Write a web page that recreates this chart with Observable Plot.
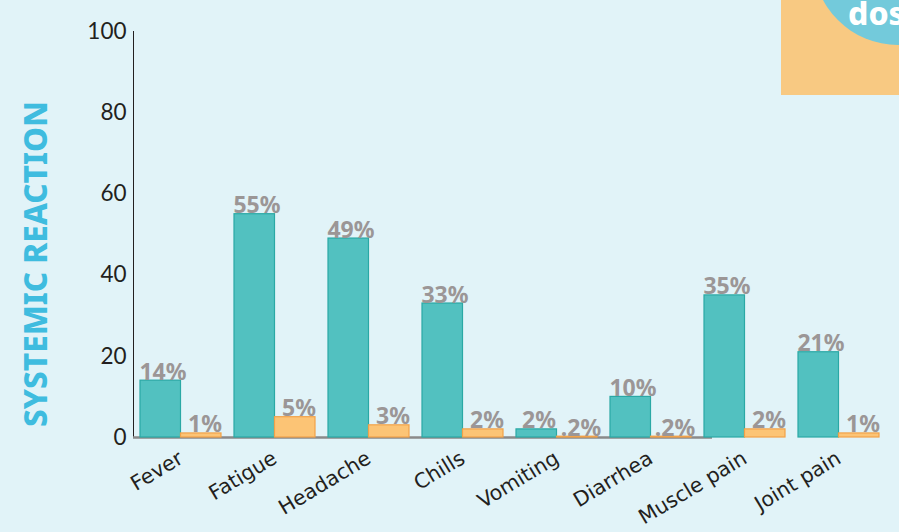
<!DOCTYPE html>
<html>
<head>
<meta charset="utf-8">
<script src="https://cdn.jsdelivr.net/npm/d3@7"></script>
<script src="https://cdn.jsdelivr.net/npm/@observablehq/plot@0.6"></script>
<style>
  html, body { margin: 0; padding: 0; background: #e1f3f8; }
  #wrap { position: relative; width: 899px; height: 532px; overflow: hidden; background: #e1f3f8; }
  #ytitle { position: absolute; left: 34px; top: 264px; transform: translate(-50%, -50%) rotate(-90deg);
    font-family: "Noto Sans", sans-serif; font-weight: 800; font-size: 31.5px; color: #3fbcdf; white-space: nowrap; }
  #badge { position: absolute; left: 781px; top: 0; width: 118px; height: 95px; background: #f8c982; overflow: hidden; }
  #circle { position: absolute; left: 32px; top: -125px; width: 170px; height: 170px; border-radius: 50%; background: #73cadb; }
  #badgetext { position: absolute; left: 67px; top: -9px; font-family: "Noto Sans", sans-serif; font-weight: 800; font-size: 32px; color: #ffffff; white-space: nowrap; }
  #chart svg g[aria-label^="x-axis"] text { font-family: "DejaVu Sans", sans-serif !important; font-size: 20.5px !important; }
</style>
</head>
<body>
<div id="wrap">
  <div id="chart"></div>
  <div id="ytitle">SYSTEMIC REACTION</div>
  <div id="badge"><div id="circle"></div><div id="badgetext">dos</div></div>
</div>
<script>
const categories = ["Fever", "Fatigue", "Headache", "Chills", "Vomiting", "Diarrhea", "Muscle pain", "Joint pain"];
const dose1 = [14, 55, 49, 33, 2, 10, 35, 21];
const dose2 = [1, 5, 3, 2, 0.2, 0.2, 2, 1];
const labels1 = ["14%", "55%", "49%", "33%", "2%", "10%", "35%", "21%"];
const labels2 = ["1%", "5%", "3%", "2%", ".2%", ".2%", "2%", "1%"];
const yTicks = [0, 20, 40, 60, 80, 100];

const data = categories.map((c, i) => ({cat: c, d1: dose1[i], d2: dose2[i], l1: labels1[i], l2: labels2[i]}));

const labelStyle = {fill: "#9b9696", fontSize: 23, fontWeight: "bold", fontFamily: "Noto Sans, sans-serif", lineAnchor: "bottom", dy: -1};

const chart = Plot.plot({
  width: 899,
  height: 532,
  marginTop: 31,
  marginBottom: 95,
  marginLeft: 133,
  marginRight: 12,
  style: {background: "transparent", fontFamily: "Lato, sans-serif", fontSize: "22.5px", color: "#231f20", overflow: "visible"},
  x: {domain: categories, paddingInner: 0.138, paddingOuter: 0.074, label: null, tickSize: 0, tickRotate: -31, tickPadding: 19},
  y: {domain: [0, 100], ticks: yTicks, label: null, tickSize: 0, tickPadding: 7, line: true},
  marks: [
    Plot.ruleY([0], {x1: () => categories[0], x2: () => categories[5], stroke: "#8a8a8a", strokeWidth: 2.5, insetLeft: -7, insetRight: -21}),
    Plot.barY(data, {x: "cat", y: "d1", insetRight: 40.5, fill: "#52c1c0", stroke: "#2aa8a5", strokeWidth: 1.2}),
    Plot.barY(data, {x: "cat", y: "d2", insetLeft: 40.5, fill: "#fcc475", stroke: "#f2a248", strokeWidth: 1.2}),
    Plot.text(data, {x: "cat", y: "d1", text: "l1", dx: -18, ...labelStyle}),
    Plot.text(data, {x: "cat", y: "d2", text: "l2", dx: 24, ...labelStyle})
  ]
});
document.getElementById("chart").appendChild(chart);
</script>
</body>
</html>
